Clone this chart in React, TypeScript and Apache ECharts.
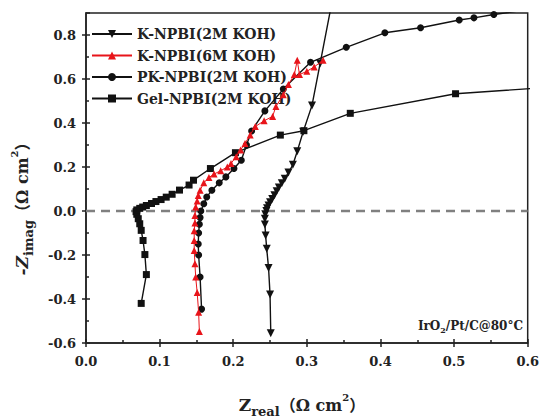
import React, { useEffect, useRef } from "react";
import * as echarts from "echarts";

const seriesNames = ["K-NPBI(2M KOH)", "K-NPBI(6M KOH)", "PK-NPBI(2M KOH)", "Gel-NPBI(2M KOH)"];

const k2m: number[][] = [
  [0.251, -0.556], [0.25, -0.38], [0.248, -0.259], [0.2455, -0.172], [0.244, -0.111], [0.243, -0.061],
  [0.243, -0.035], [0.2435, -0.015], [0.245, 0.0], [0.246, 0.012], [0.248, 0.025], [0.25, 0.04],
  [0.253, 0.055], [0.256, 0.072], [0.259, 0.09], [0.262, 0.107], [0.266, 0.126], [0.27, 0.147],
  [0.275, 0.175], [0.281, 0.21], [0.287, 0.272], [0.295, 0.36], [0.307, 0.48], [0.318, 0.67], [0.337, 1.0],
];

const k6m: number[][] = [
  [0.154, -0.548], [0.153, -0.46], [0.151, -0.37], [0.149, -0.3], [0.148, -0.24], [0.147, -0.18],
  [0.147, -0.134], [0.147, -0.09], [0.148, -0.055], [0.148, -0.02], [0.149, 0.018], [0.151, 0.045],
  [0.1525, 0.07], [0.155, 0.094], [0.16, 0.128], [0.167, 0.152], [0.174, 0.168], [0.183, 0.183],
  [0.192, 0.2], [0.197, 0.216], [0.204, 0.247], [0.21, 0.277], [0.216, 0.307], [0.223, 0.346],
  [0.23, 0.384], [0.242, 0.41], [0.2535, 0.43], [0.258, 0.475], [0.268, 0.528], [0.275, 0.575],
  [0.283, 0.62], [0.287, 0.685], [0.29, 0.62], [0.3, 0.635], [0.31, 0.655], [0.322, 0.685],
];

const pk2m: number[][] = [
  [0.157, -0.446], [0.155, -0.3], [0.153, -0.2], [0.1525, -0.15], [0.153, -0.1], [0.154, -0.06],
  [0.155, -0.03], [0.156, 0.0], [0.16, 0.033], [0.164, 0.064], [0.171, 0.094], [0.181, 0.128],
  [0.19, 0.155], [0.201, 0.193], [0.211, 0.231], [0.218, 0.3], [0.225, 0.364], [0.243, 0.455],
  [0.268, 0.554], [0.305, 0.676], [0.3535, 0.744], [0.406, 0.81], [0.4545, 0.833], [0.507, 0.868],
  [0.527, 0.878], [0.554, 0.893], [0.6, 0.915],
];

const gel2m: number[][] = [
  [0.075, -0.42], [0.082, -0.289], [0.08, -0.198], [0.0775, -0.134], [0.075, -0.088], [0.073, -0.058],
  [0.071, -0.035], [0.069, -0.015], [0.068, -0.003], [0.069, 0.005], [0.073, 0.012], [0.077, 0.018],
  [0.082, 0.025], [0.089, 0.034], [0.095, 0.043], [0.102, 0.052], [0.109, 0.063], [0.117, 0.076],
  [0.127, 0.095], [0.14, 0.118], [0.146, 0.14], [0.169, 0.193], [0.203, 0.265], [0.264, 0.345],
  [0.296, 0.365], [0.359, 0.444], [0.502, 0.533], [0.62, 0.56],
];

const zeroLine: number[][] = [[0, 0], [0.6, 0]];
const xRange = [0, 0.6];
const yRange = [-0.6, 0.9];
const xStep = 0.1;
const yStep = 0.2;

const SERIF = '"DejaVu Serif", "Liberation Serif", "Noto Sans CJK SC", serif';

export default function App() {
  const ref = useRef<HTMLDivElement>(null);
  useEffect(() => {
    if (!ref.current) return;
    const chart = echarts.init(ref.current, null, { renderer: "svg" });
    const labelStyle = {
      fontFamily: SERIF,
      fontWeight: "bold" as const,
      fontSize: 13,
      color: "#222",
    };
    const baseX = {
      type: "value" as const,
      min: xRange[0],
      max: xRange[1],
      interval: xStep,
      position: "bottom" as const,
      splitLine: { show: false },
    };
    const baseY = {
      type: "value" as const,
      min: yRange[0],
      max: yRange[1],
      interval: yStep,
      position: "left" as const,
      splitLine: { show: false },
    };
    const lineSeries = (name: string, data: number[][], symbol: string, color: string, size: number, extra: any = {}) => ({
      name,
      type: "line",
      data,
      symbol,
      symbolSize: size,
      showAllSymbol: true,
      clip: true,
      itemStyle: { color },
      lineStyle: { color, width: 1.4 },
      ...extra,
    });
    chart.setOption({
      animation: false,
      backgroundColor: "#fff",
      grid: {
        left: 86,
        right: 14,
        top: 13,
        bottom: 76,
        show: true,
        borderColor: "#222",
        borderWidth: 1.5,
        backgroundColor: "transparent",
      },
      xAxis: [
        {
          ...baseX,
          axisLine: { show: true, onZero: false, lineStyle: { color: "#222", width: 1.5 } },
          axisTick: { show: true, inside: false, length: 4, lineStyle: { color: "#222", width: 1.5 } },
          axisLabel: { ...labelStyle, margin: 12, formatter: (v: number) => v.toFixed(1) },
        },
        {
          ...baseX,
          axisLine: { show: false, onZero: false },
          axisTick: { show: true, inside: true, length: 4, lineStyle: { color: "#222", width: 1.5 } },
          minorTick: { show: true, splitNumber: 2, length: 3, lineStyle: { color: "#222", width: 1.5 } },
          axisLabel: { show: false },
        },
      ],
      yAxis: [
        {
          ...baseY,
          axisLine: { show: true, onZero: false, lineStyle: { color: "#222", width: 1.5 } },
          axisTick: { show: true, inside: false, length: 4, lineStyle: { color: "#222", width: 1.5 } },
          axisLabel: { ...labelStyle, margin: 10, showMaxLabel: false, formatter: (v: number) => v.toFixed(1) },
        },
        {
          ...baseY,
          axisLine: { show: false, onZero: false },
          axisTick: { show: true, inside: true, length: 4, lineStyle: { color: "#222", width: 1.5 } },
          minorTick: { show: true, splitNumber: 2, length: 3, lineStyle: { color: "#222", width: 1.5 } },
          axisLabel: { show: false },
        },
      ],
      legend: {
        orient: "vertical",
        left: 86,
        top: 22,
        itemWidth: 40,
        itemHeight: 10,
        itemGap: 7.5,
        textStyle: { fontFamily: SERIF, fontWeight: "bold", fontSize: 14, lineHeight: 14, color: "#222" },
        data: seriesNames,
      },
      series: [
        {
          name: "zero",
          type: "line",
          data: zeroLine,
          symbol: "none",
          silent: true,
          z: 1,
          lineStyle: { color: "#808080", width: 2.5, type: [9, 6] },
        },
        lineSeries(seriesNames[0], k2m, "triangle", "#111", 8, { symbolRotate: 180, z: 3 }),
        lineSeries(seriesNames[1], k6m, "triangle", "#e8141a", 7, { z: 5, lineStyle: { color: "#e8141a", width: 1 } }),
        lineSeries(seriesNames[2], pk2m, "circle", "#111", 7, { z: 4 }),
        lineSeries(seriesNames[3], gel2m, "rect", "#111", 7, { z: 3 }),
      ],
      graphic: [
        {
          type: "text",
          x: 302,
          y: 405,
          style: {
            text: "{z|Z}{s|real}{p|（Ω cm}{sup|2}{p|）}",
            align: "center",
            verticalAlign: "middle",
            fill: "#222",
            rich: {
              z: { fontFamily: SERIF, fontWeight: "bold", fontSize: 17, lineHeight: 26, verticalAlign: "middle", fill: "#222" },
              s: { fontFamily: SERIF, fontWeight: "bold", fontSize: 13, lineHeight: 13, verticalAlign: "bottom", fill: "#222" },
              p: { fontFamily: SERIF, fontWeight: "bold", fontSize: 16, lineHeight: 26, verticalAlign: "middle", fill: "#222" },
              sup: { fontFamily: SERIF, fontWeight: "bold", fontSize: 10, lineHeight: 10, verticalAlign: "top", fill: "#222" },
            },
          },
        },
        {
          type: "text",
          x: 22,
          y: 205,
          rotation: Math.PI / 2,
          style: {
            text: "{z|-Z}{s|imag}{p|（Ω cm}{sup|2}{p|）}",
            align: "center",
            verticalAlign: "middle",
            fill: "#222",
            rich: {
              z: { fontFamily: SERIF, fontWeight: "bold", fontStyle: "italic", fontSize: 17, lineHeight: 26, verticalAlign: "middle", fill: "#222" },
              s: { fontFamily: SERIF, fontWeight: "bold", fontSize: 13, lineHeight: 13, verticalAlign: "bottom", fill: "#222" },
              p: { fontFamily: SERIF, fontWeight: "bold", fontSize: 16, lineHeight: 26, verticalAlign: "middle", fill: "#222" },
              sup: { fontFamily: SERIF, fontWeight: "bold", fontSize: 10, lineHeight: 10, verticalAlign: "top", fill: "#222" },
            },
          },
        },
        {
          type: "text",
          x: 523,
          y: 326,
          style: {
            text: "{a|IrO}{s|2}{a|/Pt/C@80°C}",
            align: "right",
            verticalAlign: "middle",
            fill: "#222",
            rich: {
              a: { fontFamily: SERIF, fontWeight: "bold", fontSize: 12, lineHeight: 16, verticalAlign: "middle", fill: "#222" },
              s: { fontFamily: SERIF, fontWeight: "bold", fontSize: 8, lineHeight: 8, verticalAlign: "bottom", fill: "#222" },
            },
          },
        },
      ],
    });
    return () => chart.dispose();
  }, []);
  return <div ref={ref} style={{ width: 542, height: 419, position: "absolute", left: 0, top: 0 }} />;
}
